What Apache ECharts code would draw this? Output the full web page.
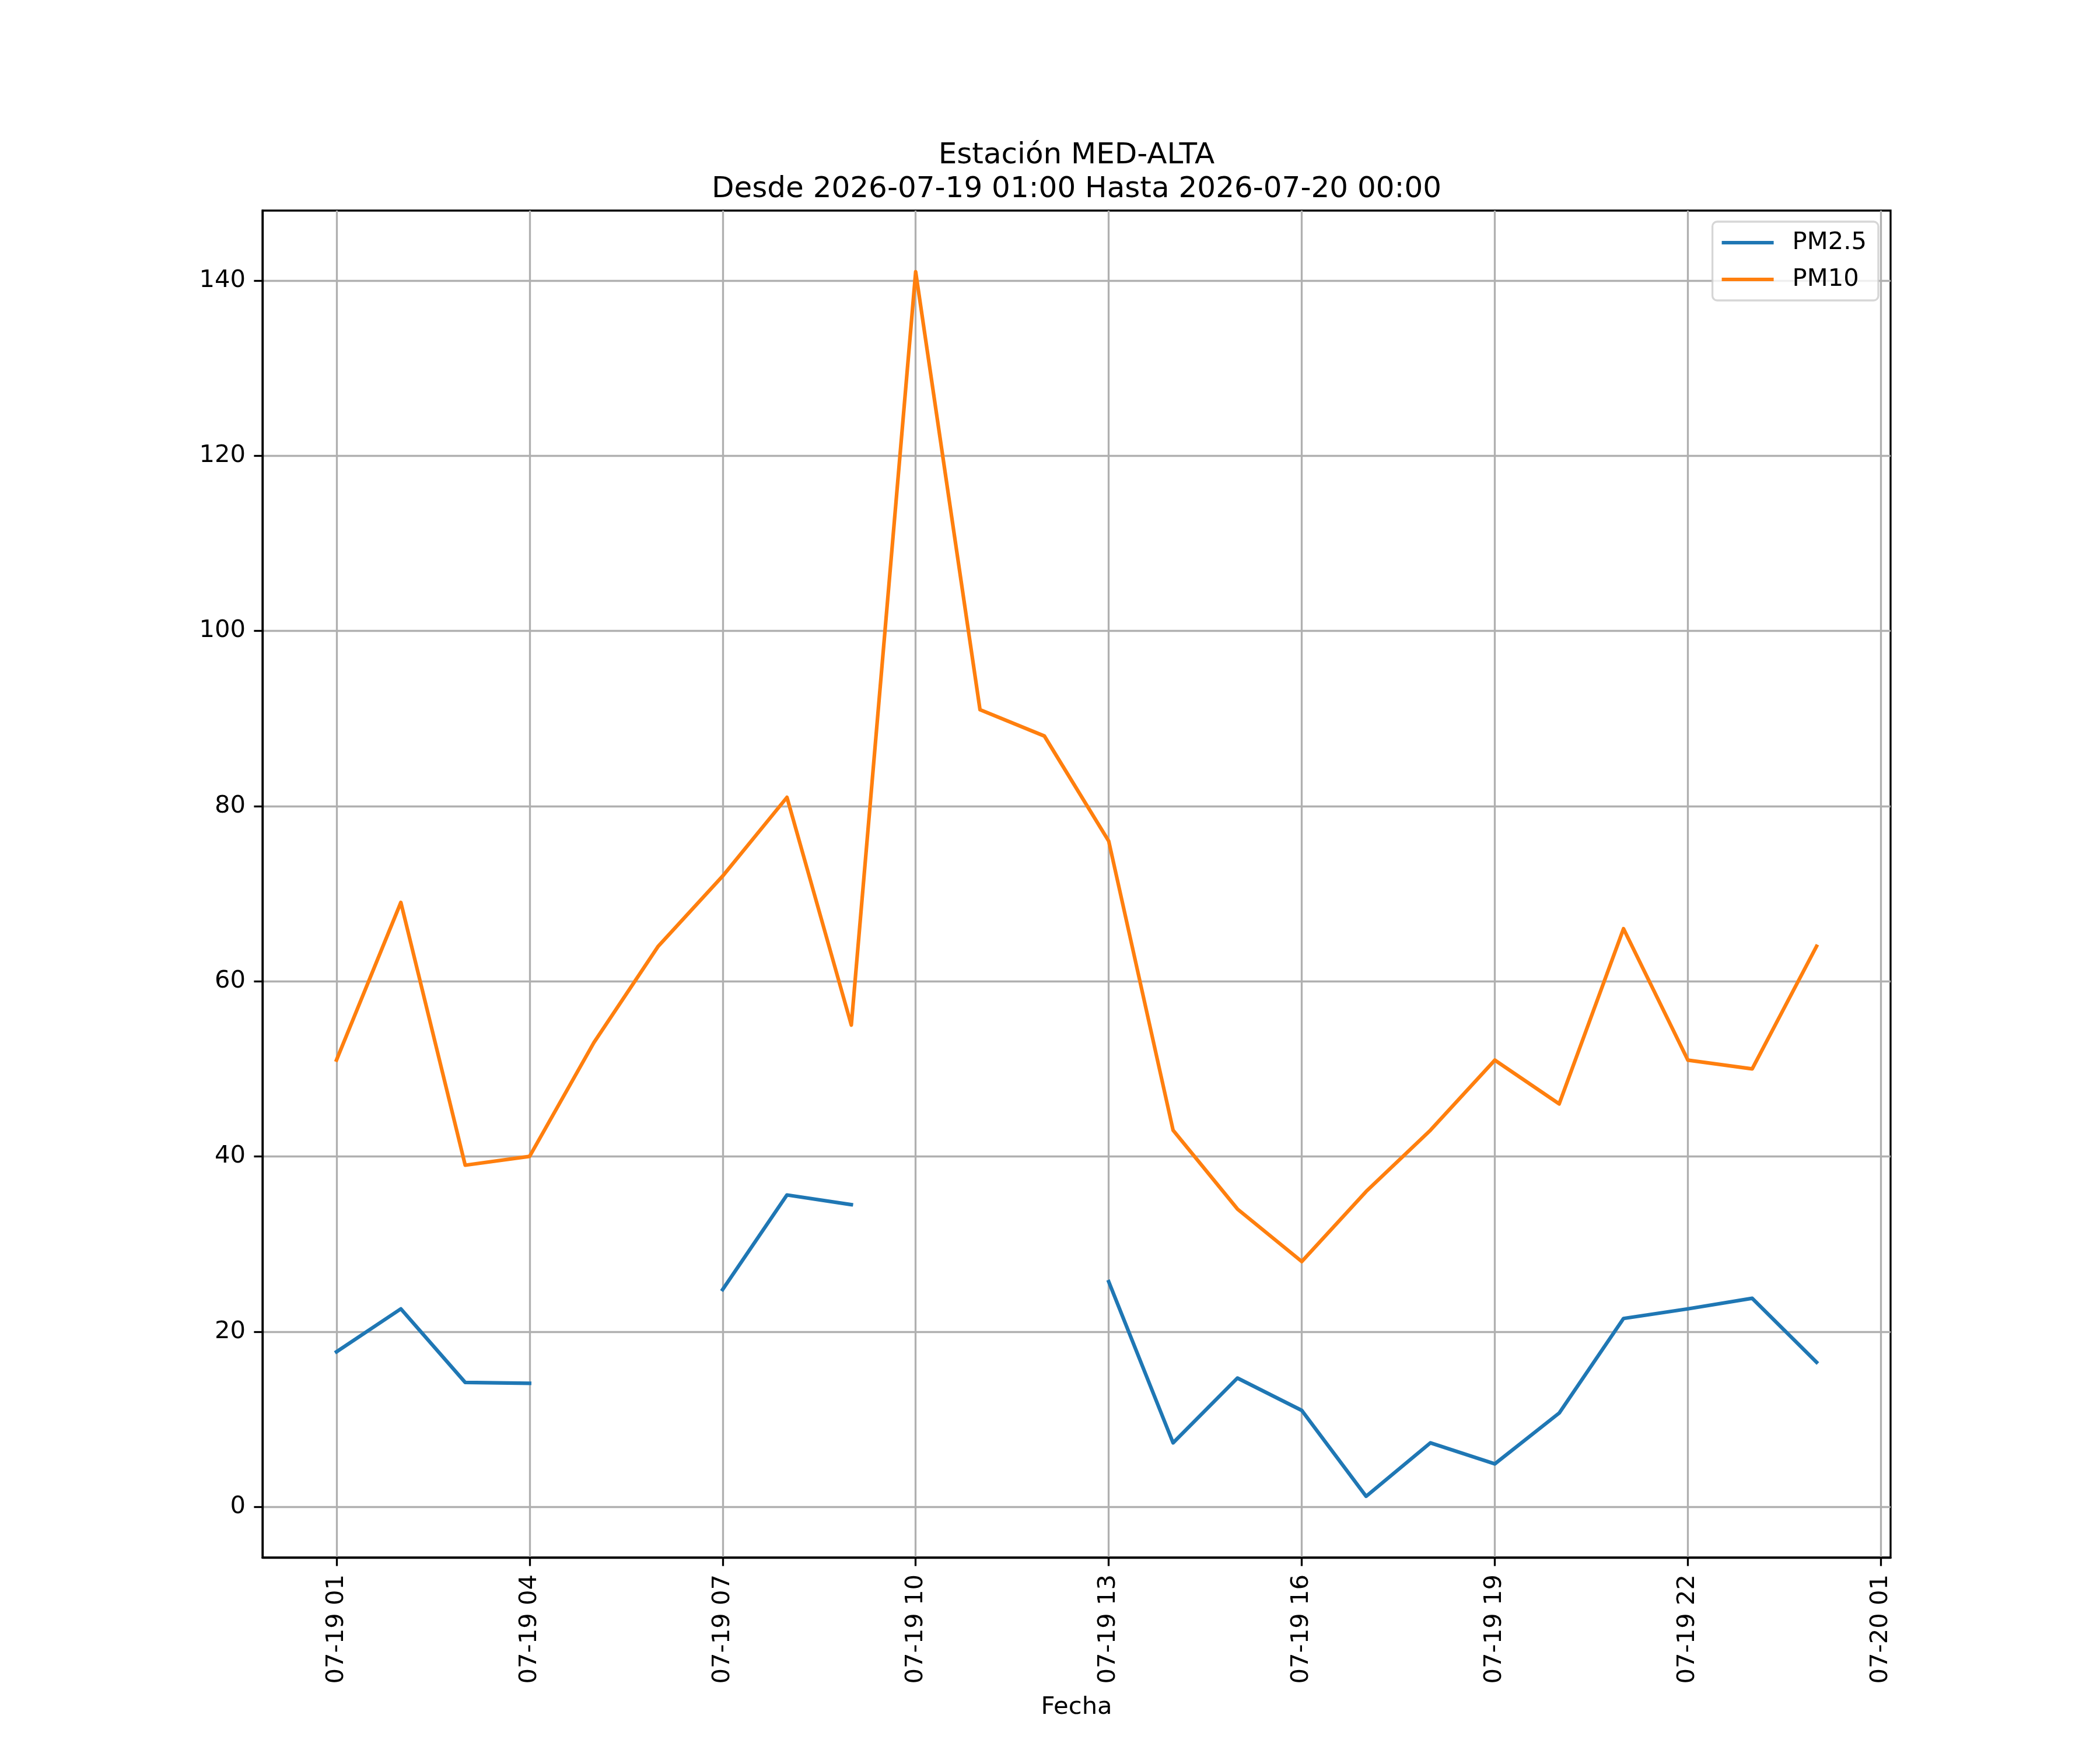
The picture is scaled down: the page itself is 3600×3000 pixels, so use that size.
<!DOCTYPE html>
<html>
<head>
<meta charset="utf-8">
<script src="https://cdn.jsdelivr.net/npm/echarts@6/dist/echarts.min.js"></script>
<style>
    html, body { margin: 0; padding: 0; background: #fff; }
    #chart { width: 3600px; height: 3000px; }
</style>
</head>
<body>
<div id="chart"></div>
<script>
// horas medidas (hora local de la estación)
var timeAry = [
    '2026-07-19 01:00', '2026-07-19 02:00', '2026-07-19 03:00', '2026-07-19 04:00',
    '2026-07-19 05:00', '2026-07-19 06:00', '2026-07-19 07:00', '2026-07-19 08:00',
    '2026-07-19 09:00', '2026-07-19 10:00', '2026-07-19 11:00', '2026-07-19 12:00',
    '2026-07-19 13:00', '2026-07-19 14:00', '2026-07-19 15:00', '2026-07-19 16:00',
    '2026-07-19 17:00', '2026-07-19 18:00', '2026-07-19 19:00', '2026-07-19 20:00',
    '2026-07-19 21:00', '2026-07-19 22:00', '2026-07-19 23:00', '2026-07-20 00:00'
];
// null = sin dato
var pm25Ary = [
    17.7, 22.6, 14.2, 14.1, null, null, 24.8, 35.6,
    34.5, null, null, null, 25.7, 7.3, 14.7, 11.0,
    1.2, 7.3, 4.9, 10.7, 21.5, 22.6, 23.8, 16.5
];
var pm10Ary = [
    51, 69, 39, 40, 53, 64, 72, 81,
    55, 141, 91, 88, 76, 43, 34, 28,
    36, 43, 51, 46, 66, 51, 50, 64
];
var xTickAry = [
    '2026-07-19 01:00', '2026-07-19 04:00', '2026-07-19 07:00', '2026-07-19 10:00',
    '2026-07-19 13:00', '2026-07-19 16:00', '2026-07-19 19:00', '2026-07-19 22:00',
    '2026-07-20 01:00'
];
var yTickAry = [0, 20, 40, 60, 80, 100, 120, 140];
var seriesNames = ['PM2.5', 'PM10'];
var titleText = 'Estación MED-ALTA\nDesde 2026-07-19 01:00 Hasta 2026-07-20 00:00';

function toMs(s) {
    return new Date(s.replace(' ', 'T')).getTime();
}
function pad2(n) {
    return (n < 10 ? '0' : '') + n;
}
function pairs(ary) {
    var out = [];
    for (var i = 0; i < timeAry.length; i++)
        out.push([toMs(timeAry[i]), ary[i]]);
    return out;
}

// margenes automaticos tipo matplotlib (5%)
var t0 = toMs(timeAry[0]), t1 = toMs(timeAry[timeAry.length - 1]);
var xPad = (t1 - t0) * 0.05;
var allVals = pm25Ary.concat(pm10Ary).filter(function (v) { return v != null; });
var vMin = Math.min.apply(null, allVals), vMax = Math.max.apply(null, allVals);
var yPad = (vMax - vMin) * 0.05;

var FONT = 'DejaVu Sans';
var gridLeft = 450, gridRight = 359;
var chartDom = document.getElementById('chart');
var myChart = echarts.init(chartDom, null, { renderer: 'canvas', devicePixelRatio: 1 });
var option = {
    animation: false,
    backgroundColor: '#ffffff',
    textStyle: { fontFamily: FONT },
    title: {
        text: titleText,
        // centrado sobre el area del grafico
        left: gridLeft + (3600 - gridLeft - gridRight) / 2,
        textAlign: 'center',
        top: 238,
        padding: 0,
        textStyle: {
            fontFamily: FONT,
            fontSize: 50,
            fontWeight: 'normal',
            color: '#000',
            lineHeight: 58
        }
    },
    grid: {
        left: gridLeft,
        right: gridRight,
        top: 361,
        bottom: 330,
        show: true,
        borderColor: '#000',
        borderWidth: 3.3,
        containLabel: false
    },
    legend: {
        orient: 'vertical',
        right: 380,
        top: 380,
        padding: [15, 20, 15, 16],
        itemGap: 21,
        itemWidth: 89,
        itemHeight: 6,
        icon: 'rect',
        backgroundColor: 'rgba(255,255,255,0.8)',
        borderColor: 'rgba(204,204,204,0.8)',
        borderWidth: 3.3,
        borderRadius: 8,
        data: seriesNames,
        textStyle: {
            fontFamily: FONT,
            fontSize: 41.7,
            lineHeight: 42,
            color: '#000',
            padding: [0, 0, 0, 27]
        }
    },
    // eje de tiempo como valor (ms) para fijar las marcas cada 3 h
    xAxis: {
        type: 'value',
        min: t0 - xPad,
        max: t1 + xPad,
        name: 'Fecha',
        nameLocation: 'middle',
        nameGap: 236,
        nameTextStyle: { fontFamily: FONT, fontSize: 41.7, color: '#000' },
        axisLine: { show: true, onZero: false, lineStyle: { color: '#000', width: 3.3 } },
        axisTick: {
            show: true,
            length: 14.6,
            lineStyle: { color: '#000', width: 3.3 },
            customValues: xTickAry.map(toMs)
        },
        axisLabel: {
            show: true,
            rotate: 90,
            margin: 29,
            fontFamily: FONT,
            fontSize: 41.7,
            color: '#000',
            hideOverlap: false,
            showMinLabel: true,
            showMaxLabel: true,
            customValues: xTickAry.map(toMs),
            formatter: function (v) {
                var d = new Date(v);
                return pad2(d.getMonth() + 1) + '-' + pad2(d.getDate()) + ' ' + pad2(d.getHours());
            }
        },
        splitLine: { show: true, lineStyle: { color: '#b0b0b0', width: 3.3 } }
    },
    yAxis: {
        type: 'value',
        min: vMin - yPad,
        max: vMax + yPad,
        axisLine: { show: true, onZero: false, lineStyle: { color: '#000', width: 3.3 } },
        axisTick: {
            show: true,
            length: 14.6,
            lineStyle: { color: '#000', width: 3.3 },
            customValues: yTickAry
        },
        axisLabel: {
            show: true,
            margin: 29,
            fontFamily: FONT,
            fontSize: 41.7,
            color: '#000',
            customValues: yTickAry
        },
        splitLine: { show: true, lineStyle: { color: '#b0b0b0', width: 3.3 } }
    },
    series: [
        {
            name: seriesNames[0],
            type: 'line',
            data: pairs(pm25Ary),
            symbol: 'none',
            connectNulls: false,
            color: '#1f77b4',
            lineStyle: { color: '#1f77b4', width: 6.25, cap: 'square', join: 'round' }
        },
        {
            name: seriesNames[1],
            type: 'line',
            data: pairs(pm10Ary),
            symbol: 'none',
            connectNulls: false,
            color: '#ff7f0e',
            lineStyle: { color: '#ff7f0e', width: 6.25, cap: 'square', join: 'round' }
        }
    ]
};

// 使用刚指定的配置项和数据显示图表。
myChart.setOption(option);
</script>
</body>
</html>
